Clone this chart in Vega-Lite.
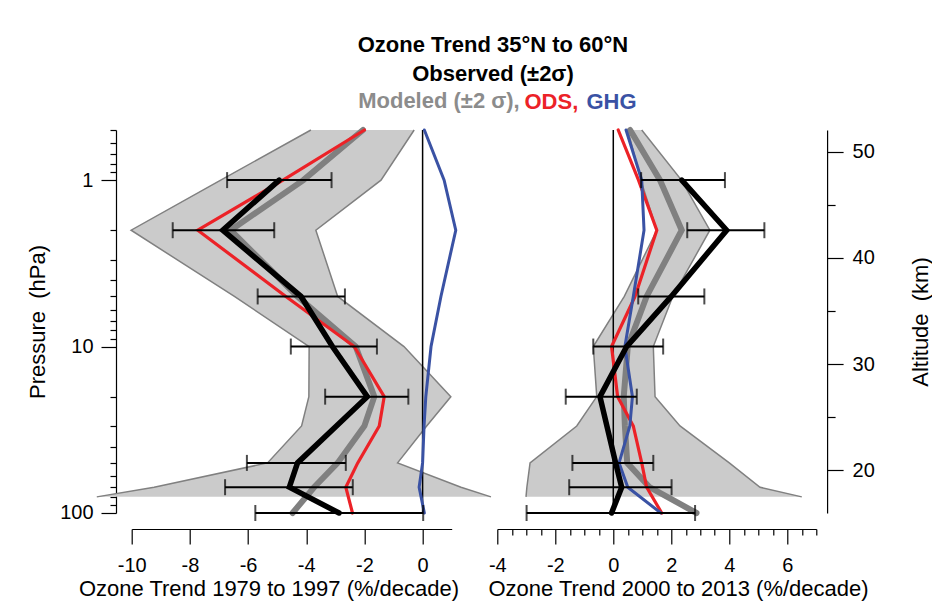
{
  "$schema": "https://vega.github.io/schema/vega-lite/v6.json",
  "background": "white",
  "padding": {"left": 25.7, "top": 34, "right": 0, "bottom": 5},
  "title": {
    "text": ["Ozone Trend 35°N to 60°N", "Observed (±2σ)"],
    "fontSize": 22,
    "fontWeight": "bold",
    "font": "Liberation Sans",
    "lineHeight": 29,
    "anchor": "middle",
    "color": "black",
    "offset": 4,
    "dx": 14
  },
  "datasets": {
    "band": [
      {"panel": "L", "p": 0.5, "lo": -3.84, "hi": -0.29},
      {"panel": "L", "p": 1, "lo": -6.94, "hi": -1.43},
      {"panel": "L", "p": 2, "lo": -10.02, "hi": -3.67},
      {"panel": "L", "p": 5, "lo": -6.47, "hi": -2.92},
      {"panel": "L", "p": 10, "lo": -3.9, "hi": -0.64},
      {"panel": "L", "p": 20, "lo": -3.91, "hi": 0.97},
      {"panel": "L", "p": 30, "lo": -4.16, "hi": 0.14},
      {"panel": "L", "p": 50, "lo": -5.33, "hi": -0.86},
      {"panel": "L", "p": 70, "lo": -9.23, "hi": 1.32},
      {"panel": "L", "p": 80, "lo": -11.2, "hi": 2.35},
      {"panel": "R", "p": 0.5, "lo": 0.5, "hi": 0.98},
      {"panel": "R", "p": 1, "lo": 0.95, "hi": 2.35},
      {"panel": "R", "p": 2, "lo": 1.5, "hi": 3.33},
      {"panel": "R", "p": 5, "lo": 0.38, "hi": 2.05},
      {"panel": "R", "p": 10, "lo": -0.69, "hi": 1.38},
      {"panel": "R", "p": 20, "lo": -0.57, "hi": 1.44},
      {"panel": "R", "p": 30, "lo": -1.26, "hi": 2.3},
      {"panel": "R", "p": 50, "lo": -2.87, "hi": 4.0},
      {"panel": "R", "p": 70, "lo": -2.98, "hi": 5.06},
      {"panel": "R", "p": 80, "lo": -3.01, "hi": 6.5}
    ],
    "lines": [
      {"panel": "L", "series": "Model", "p": 0.5, "v": -2.05},
      {"panel": "L", "series": "Model", "p": 1, "v": -4.1},
      {"panel": "L", "series": "Model", "p": 2, "v": -6.6},
      {"panel": "L", "series": "Model", "p": 5, "v": -4.3},
      {"panel": "L", "series": "Model", "p": 10, "v": -2.3},
      {"panel": "L", "series": "Model", "p": 20, "v": -1.66},
      {"panel": "L", "series": "Model", "p": 30, "v": -2.0},
      {"panel": "L", "series": "Model", "p": 50, "v": -2.92},
      {"panel": "L", "series": "Model", "p": 70, "v": -3.73},
      {"panel": "L", "series": "Model", "p": 100, "v": -4.47},
      {"panel": "L", "series": "ODS", "p": 0.5, "v": -2.0},
      {"panel": "L", "series": "ODS", "p": 1, "v": -4.8},
      {"panel": "L", "series": "ODS", "p": 2, "v": -7.73},
      {"panel": "L", "series": "ODS", "p": 5, "v": -4.7},
      {"panel": "L", "series": "ODS", "p": 10, "v": -2.35},
      {"panel": "L", "series": "ODS", "p": 20, "v": -1.32},
      {"panel": "L", "series": "ODS", "p": 30, "v": -1.49},
      {"panel": "L", "series": "ODS", "p": 50, "v": -2.23},
      {"panel": "L", "series": "ODS", "p": 70, "v": -2.64},
      {"panel": "L", "series": "ODS", "p": 100, "v": -2.41},
      {"panel": "L", "series": "GHG", "p": 0.5, "v": 0.06},
      {"panel": "L", "series": "GHG", "p": 1, "v": 0.74},
      {"panel": "L", "series": "GHG", "p": 2, "v": 1.14},
      {"panel": "L", "series": "GHG", "p": 5, "v": 0.63},
      {"panel": "L", "series": "GHG", "p": 10, "v": 0.29},
      {"panel": "L", "series": "GHG", "p": 20, "v": 0.11},
      {"panel": "L", "series": "GHG", "p": 30, "v": 0.05},
      {"panel": "L", "series": "GHG", "p": 50, "v": 0.0},
      {"panel": "L", "series": "GHG", "p": 70, "v": -0.12},
      {"panel": "L", "series": "GHG", "p": 100, "v": 0.06},
      {"panel": "R", "series": "Model", "p": 0.5, "v": 0.58},
      {"panel": "R", "series": "Model", "p": 1, "v": 1.61},
      {"panel": "R", "series": "Model", "p": 2, "v": 2.36},
      {"panel": "R", "series": "Model", "p": 5, "v": 1.15},
      {"panel": "R", "series": "Model", "p": 10, "v": 0.5},
      {"panel": "R", "series": "Model", "p": 20, "v": 0.36},
      {"panel": "R", "series": "Model", "p": 30, "v": 0.4},
      {"panel": "R", "series": "Model", "p": 50, "v": 0.48},
      {"panel": "R", "series": "Model", "p": 70, "v": 1.25},
      {"panel": "R", "series": "Model", "p": 100, "v": 2.87},
      {"panel": "R", "series": "ODS", "p": 0.5, "v": 0.17},
      {"panel": "R", "series": "ODS", "p": 1, "v": 0.87},
      {"panel": "R", "series": "ODS", "p": 2, "v": 1.5},
      {"panel": "R", "series": "ODS", "p": 5, "v": 0.75},
      {"panel": "R", "series": "ODS", "p": 10, "v": -0.06},
      {"panel": "R", "series": "ODS", "p": 20, "v": 0.15},
      {"panel": "R", "series": "ODS", "p": 30, "v": 0.69},
      {"panel": "R", "series": "ODS", "p": 50, "v": 0.98},
      {"panel": "R", "series": "ODS", "p": 70, "v": 1.15},
      {"panel": "R", "series": "ODS", "p": 100, "v": 1.67},
      {"panel": "R", "series": "GHG", "p": 0.5, "v": 0.44},
      {"panel": "R", "series": "GHG", "p": 1, "v": 0.98},
      {"panel": "R", "series": "GHG", "p": 2, "v": 1.06},
      {"panel": "R", "series": "GHG", "p": 5, "v": 0.69},
      {"panel": "R", "series": "GHG", "p": 10, "v": 0.4},
      {"panel": "R", "series": "GHG", "p": 20, "v": 0.66},
      {"panel": "R", "series": "GHG", "p": 30, "v": 0.57},
      {"panel": "R", "series": "GHG", "p": 50, "v": 0.2},
      {"panel": "R", "series": "GHG", "p": 70, "v": 0.5},
      {"panel": "R", "series": "GHG", "p": 100, "v": 1.64}
    ],
    "obs": [
      {"panel": "L", "p": 1, "v": -4.93, "lo": -6.72, "hi": -3.13},
      {"panel": "L", "p": 2, "v": -6.87, "lo": -8.59, "hi": -5.1},
      {"panel": "L", "p": 5, "v": -4.18, "lo": -5.67, "hi": -2.67},
      {"panel": "L", "p": 10, "v": -3.1, "lo": -4.53, "hi": -1.57},
      {"panel": "L", "p": 20, "v": -1.9, "lo": -3.35, "hi": -0.49},
      {"panel": "L", "p": 50, "v": -4.3, "lo": -6.04, "hi": -2.64},
      {"panel": "L", "p": 70, "v": -4.58, "lo": -6.79, "hi": -2.4},
      {"panel": "L", "p": 100, "v": -2.87, "lo": -5.75, "hi": 0.02},
      {"panel": "R", "p": 1, "v": 2.36, "lo": 0.96, "hi": 3.85},
      {"panel": "R", "p": 2, "v": 3.91, "lo": 2.55, "hi": 5.21},
      {"panel": "R", "p": 5, "v": 2.0, "lo": 0.86, "hi": 3.14},
      {"panel": "R", "p": 10, "v": 0.46, "lo": -0.69, "hi": 1.72},
      {"panel": "R", "p": 20, "v": -0.46, "lo": -1.64, "hi": 0.81},
      {"panel": "R", "p": 50, "v": 0.08, "lo": -1.41, "hi": 1.38},
      {"panel": "R", "p": 70, "v": 0.29, "lo": -1.52, "hi": 2.01},
      {"panel": "R", "p": 100, "v": -0.06, "lo": -2.99, "hi": 2.82}
    ]
  },
  "bounds": "flush",
  "spacing": 45.6,
  "hconcat": [
    {
      "width": 320,
      "height": 383,
      "title": {
        "text": "Modeled (±2 σ),",
        "color": "#8c8c8c",
        "anchor": "end",
        "frame": "group",
        "dx": 68,
        "offset": 5,
        "fontSize": 22,
        "fontWeight": "bold",
        "font": "Liberation Sans"
      },
      "layer": [
        {
          "data": {"name": "band"},
          "transform": [{"filter": "datum.panel == 'L'"}],
          "mark": {"type": "area", "orient": "horizontal", "color": "#cbcbcb", "clip": false},
          "encoding": {
            "y": {
              "field": "p", "type": "quantitative",
              "scale": {"type": "log", "domain": [0.5, 100], "reverse": true, "nice": false},
              "axis": {
                "values": [0.5, 0.6, 0.7, 0.8, 0.9, 1, 2, 3, 4, 5, 6, 7, 8, 9, 10, 20, 30, 40, 50, 60, 70, 80, 90, 100],
                "labelExpr": "(datum.value == 1 || datum.value == 10 || datum.value == 100) ? toString(datum.value) : ''",
                "tickSize": {"condition": {"test": "datum.value == 1 || datum.value == 10 || datum.value == 100", "value": 15}, "value": 6},
                "offset": 15.7,
                "labelPadding": 8,
                "title": "Pressure\u00a0\u00a0(hPa)",
                "titlePadding": 10
              }
            },
            "x": {
              "field": "lo", "type": "quantitative",
              "scale": {"domain": [-10, 1], "nice": false, "zero": false},
              "axis": {
                "values": [-10, -9.5, -9, -8.5, -8, -7.5, -7, -6.5, -6, -5.5, -5, -4.5, -4, -3.5, -3, -2.5, -2, -1.5, -1, -0.5, 0, 0.5, 1],
                "labelExpr": "datum.value % 2 == 0 ? toString(datum.value) : ''",
                "tickSize": {"condition": {"test": "datum.value % 2 == 0", "value": 15}, "value": 6},
                "offset": 16,
                "labelPadding": 12,
                "title": "Ozone Trend 1979 to 1997 (%/decade)",
                "titleX": 136.8,
                "titlePadding": 3
              }
            },
            "x2": {"field": "hi"}
          }
        },
        {
          "data": {"name": "band"},
          "transform": [{"filter": "datum.panel == 'L'"}],
          "mark": {"type": "line", "color": "#808080", "strokeWidth": 1.5, "clip": false},
          "encoding": {
            "y": {"field": "p", "type": "quantitative"},
            "x": {"field": "lo", "type": "quantitative"},
            "order": {"field": "p"}
          }
        },
        {
          "data": {"name": "band"},
          "transform": [{"filter": "datum.panel == 'L'"}],
          "mark": {"type": "line", "color": "#808080", "strokeWidth": 1.5, "clip": false},
          "encoding": {
            "y": {"field": "p", "type": "quantitative"},
            "x": {"field": "hi", "type": "quantitative"},
            "order": {"field": "p"}
          }
        },
        {
          "data": {"values": [{}]},
          "mark": {"type": "rule", "color": "black", "strokeWidth": 1.5},
          "encoding": {"x": {"datum": 0}}
        },
        {
          "data": {"name": "lines"},
          "transform": [{"filter": "datum.panel == 'L' && datum.series == 'Model'"}],
          "mark": {"type": "line", "color": "#808080", "strokeWidth": 6, "strokeCap": "round"},
          "encoding": {
            "y": {"field": "p", "type": "quantitative"},
            "x": {"field": "v", "type": "quantitative"},
            "order": {"field": "p"}
          }
        },
        {
          "data": {"name": "lines"},
          "transform": [{"filter": "datum.panel == 'L' && datum.series == 'ODS'"}],
          "mark": {"type": "line", "color": "#ec2227", "strokeWidth": 3.2, "strokeCap": "round"},
          "encoding": {
            "y": {"field": "p", "type": "quantitative"},
            "x": {"field": "v", "type": "quantitative"},
            "order": {"field": "p"}
          }
        },
        {
          "data": {"name": "lines"},
          "transform": [{"filter": "datum.panel == 'L' && datum.series == 'GHG'"}],
          "mark": {"type": "line", "color": "#3a52a4", "strokeWidth": 3, "strokeCap": "round"},
          "encoding": {
            "y": {"field": "p", "type": "quantitative"},
            "x": {"field": "v", "type": "quantitative"},
            "order": {"field": "p"}
          }
        },
        {
          "data": {"name": "obs"},
          "transform": [{"filter": "datum.panel == 'L'"}],
          "mark": {"type": "rule", "color": "black", "strokeWidth": 2},
          "encoding": {
            "y": {"field": "p", "type": "quantitative"},
            "x": {"field": "lo", "type": "quantitative"},
            "x2": {"field": "hi"}
          }
        },
        {
          "data": {"name": "obs"},
          "transform": [{"filter": "datum.panel == 'L'"}],
          "mark": {"type": "tick", "orient": "vertical", "color": "black", "size": 16, "thickness": 2},
          "encoding": {
            "y": {"field": "p", "type": "quantitative"},
            "x": {"field": "lo", "type": "quantitative"}
          }
        },
        {
          "data": {"name": "obs"},
          "transform": [{"filter": "datum.panel == 'L'"}],
          "mark": {"type": "tick", "orient": "vertical", "color": "black", "size": 16, "thickness": 2},
          "encoding": {
            "y": {"field": "p", "type": "quantitative"},
            "x": {"field": "hi", "type": "quantitative"}
          }
        },
        {
          "data": {"name": "obs"},
          "transform": [{"filter": "datum.panel == 'L'"}],
          "mark": {"type": "line", "color": "black", "strokeWidth": 5.5, "strokeCap": "round"},
          "encoding": {
            "y": {"field": "p", "type": "quantitative"},
            "x": {"field": "v", "type": "quantitative"},
            "order": {"field": "p"}
          }
        }
      ]
    },
    {
      "width": 319,
      "height": 383,
      "layer": [
        {
          "resolve": {"axis": {"x": "independent"}},
          "layer": [
            {
              "data": {"name": "band"},
              "transform": [{"filter": "datum.panel == 'R'"}],
              "mark": {"type": "area", "orient": "horizontal", "color": "#cbcbcb", "clip": false},
              "encoding": {
                "y": {
                  "field": "p", "type": "quantitative",
                  "scale": {"type": "log", "domain": [0.5, 100], "reverse": true, "nice": false},
                  "axis": null
                },
                "x": {
                  "field": "lo", "type": "quantitative",
                  "scale": {"domain": [-4, 7], "nice": false, "zero": false},
                  "axis": {
                    "values": [-4, -3.5, -3, -2.5, -2, -1.5, -1, -0.5, 0, 0.5, 1, 1.5, 2, 2.5, 3, 3.5, 4, 4.5, 5, 5.5, 6, 6.5, 7],
                    "labelExpr": "datum.value % 2 == 0 ? toString(datum.value) : ''",
                    "tickSize": {"condition": {"test": "datum.value % 2 == 0", "value": 15}, "value": 6},
                    "offset": 16,
                    "labelPadding": 12,
                    "title": "Ozone Trend 2000 to 2013 (%/decade)",
                    "titleX": 180.7,
                    "titlePadding": 3
                  }
                },
                "x2": {"field": "hi"}
              }
            },
            {
              "data": {"name": "band"},
              "transform": [{"filter": "datum.panel == 'R'"}],
              "mark": {"type": "line", "color": "#808080", "strokeWidth": 1.5, "clip": false},
              "encoding": {
                "y": {"field": "p", "type": "quantitative"},
                "x": {"field": "lo", "type": "quantitative", "axis": null},
                "order": {"field": "p"}
              }
            },
            {
              "data": {"name": "band"},
              "transform": [{"filter": "datum.panel == 'R'"}],
              "mark": {"type": "line", "color": "#808080", "strokeWidth": 1.5, "clip": false},
              "encoding": {
                "y": {"field": "p", "type": "quantitative"},
                "x": {"field": "hi", "type": "quantitative", "axis": null},
                "order": {"field": "p"}
              }
            },
            {
              "data": {"values": [{}]},
              "mark": {"type": "rule", "color": "black", "strokeWidth": 1.5},
              "encoding": {
                "x": {
                  "datum": 0,
                  "type": "quantitative",
                  "axis": {
                    "orient": "top",
                    "domain": false,
                    "ticks": false,
                    "labels": false,
                    "title": "ODS,",
                    "titleColor": "#ec2227",
                    "titleFontWeight": "bold",
                    "titleFontSize": 22,
                    "titleAlign": "left",
                    "titleBaseline": "alphabetic",
                    "titleX": 26.7,
                    "titleY": -22
                  }
                }
              }
            },
            {
              "data": {"name": "lines"},
              "transform": [{"filter": "datum.panel == 'R' && datum.series == 'Model'"}],
              "mark": {"type": "line", "color": "#808080", "strokeWidth": 6, "strokeCap": "round"},
              "encoding": {
                "y": {"field": "p", "type": "quantitative"},
                "x": {"field": "v", "type": "quantitative", "axis": null},
                "order": {"field": "p"}
              }
            },
            {
              "data": {"name": "lines"},
              "transform": [{"filter": "datum.panel == 'R' && datum.series == 'ODS'"}],
              "mark": {"type": "line", "color": "#ec2227", "strokeWidth": 3.2, "strokeCap": "round"},
              "encoding": {
                "y": {"field": "p", "type": "quantitative"},
                "x": {"field": "v", "type": "quantitative", "axis": null},
                "order": {"field": "p"}
              }
            },
            {
              "data": {"name": "lines"},
              "transform": [{"filter": "datum.panel == 'R' && datum.series == 'GHG'"}],
              "mark": {"type": "line", "color": "#3a52a4", "strokeWidth": 3, "strokeCap": "round"},
              "encoding": {
                "y": {"field": "p", "type": "quantitative"},
                "x": {"field": "v", "type": "quantitative", "axis": null},
                "order": {"field": "p"}
              }
            },
            {
              "data": {"name": "obs"},
              "transform": [{"filter": "datum.panel == 'R'"}],
              "mark": {"type": "rule", "color": "black", "strokeWidth": 2},
              "encoding": {
                "y": {"field": "p", "type": "quantitative"},
                "x": {"field": "lo", "type": "quantitative", "axis": null},
                "x2": {"field": "hi"}
              }
            },
            {
              "data": {"name": "obs"},
              "transform": [{"filter": "datum.panel == 'R'"}],
              "mark": {"type": "tick", "orient": "vertical", "color": "black", "size": 16, "thickness": 2},
              "encoding": {
                "y": {"field": "p", "type": "quantitative"},
                "x": {"field": "lo", "type": "quantitative", "axis": null}
              }
            },
            {
              "data": {"name": "obs"},
              "transform": [{"filter": "datum.panel == 'R'"}],
              "mark": {"type": "tick", "orient": "vertical", "color": "black", "size": 16, "thickness": 2},
              "encoding": {
                "y": {"field": "p", "type": "quantitative"},
                "x": {"field": "hi", "type": "quantitative", "axis": null}
              }
            },
            {
              "data": {"name": "obs"},
              "transform": [{"filter": "datum.panel == 'R'"}],
              "mark": {"type": "line", "color": "black", "strokeWidth": 5.5, "strokeCap": "round"},
              "encoding": {
                "y": {"field": "p", "type": "quantitative"},
                "x": {
                  "field": "v",
                  "type": "quantitative",
                  "axis": {
                    "orient": "top",
                    "domain": false,
                    "ticks": false,
                    "labels": false,
                    "title": "GHG",
                    "titleColor": "#3a52a4",
                    "titleFontWeight": "bold",
                    "titleFontSize": 22,
                    "titleAlign": "left",
                    "titleBaseline": "alphabetic",
                    "titleX": 88.7,
                    "titleY": -22
                  }
                },
                "order": {"field": "p"}
              }
            }
          ]
        },
        {
          "data": {"values": [{"alt": 16}, {"alt": 52}]},
          "mark": {"type": "point", "opacity": 0},
          "encoding": {
            "y": {
              "field": "alt", "type": "quantitative",
              "scale": {"domain": [15.98, 52.05], "nice": false, "zero": false},
              "axis": {
                "orient": "right",
                "values": [20, 25, 30, 35, 40, 45, 50],
                "labelExpr": "datum.value % 10 == 0 ? toString(datum.value) : ''",
                "tickSize": {"condition": {"test": "datum.value % 10 == 0", "value": 16}, "value": 8},
                "offset": 10.8,
                "labelPadding": 9,
                "title": "Altitude\u00a0\u00a0(km)",
                "titleAngle": 270,
                "titleBaseline": "top",
                "titlePadding": 36
              }
            }
          }
        }
      ],
      "resolve": {"scale": {"y": "independent"}}
    }
  ],
  "config": {
    "view": {"stroke": null},
    "font": "Liberation Sans",
    "axis": {
      "labelFont": "Liberation Sans",
      "titleFont": "Liberation Sans",
      "labelFontSize": 20,
      "titleFontSize": 22,
      "titleFontWeight": "normal",
      "labelColor": "black",
      "titleColor": "black",
      "domainColor": "black",
      "tickColor": "black",
      "domainWidth": 1.2,
      "tickWidth": 1.2,
      "grid": false,
      "labelOverlap": false,
      "labelFlush": false
    }
  }
}
